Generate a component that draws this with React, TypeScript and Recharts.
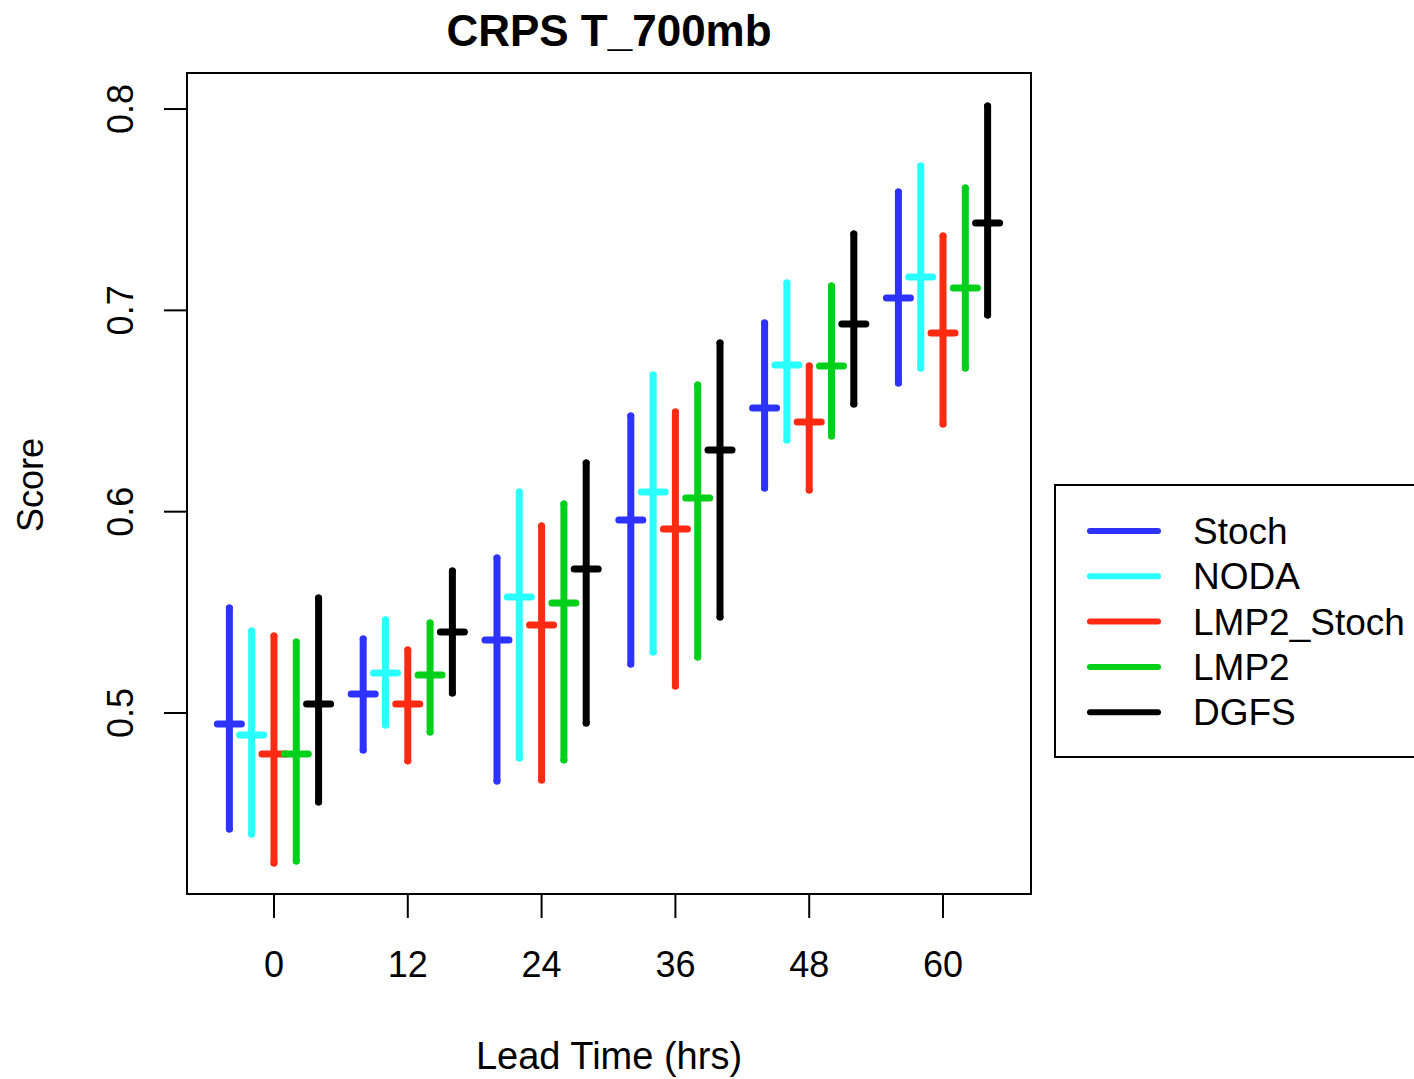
import React from 'react'
import {
  ScatterChart,
  Scatter,
  XAxis,
  YAxis,
  ErrorBar,
  ReferenceArea
} from 'recharts'

// lead times (hrs) and tick labels
const leadTimes = [0, 12, 24, 36, 48, 60]
const xTicks = [0, 12, 24, 36, 48, 60]
const yTicks = [0.5, 0.6, 0.7, 0.8]

const seriesNames = ['Stoch', 'NODA', 'LMP2_Stoch', 'LMP2', 'DGFS']
const seriesColors = ['#2d32ff', '#2affff', '#ff2a12', '#00d01a', '#000000']
const seriesOffsets = [-4, -2, 0, 2, 4]

// mean CRPS + interval per lead time
const stochMean = [0.4945, 0.5094, 0.5363, 0.5959, 0.6515, 0.7061]
const stochLow = [0.4424, 0.4816, 0.4662, 0.5243, 0.6118, 0.6639]
const stochHigh = [0.5522, 0.5368, 0.577, 0.6475, 0.6937, 0.7588]

const nodaMean = [0.4891, 0.5199, 0.5576, 0.6098, 0.6728, 0.7166]
const nodaLow = [0.4399, 0.494, 0.4776, 0.5303, 0.6356, 0.6714]
const nodaHigh = [0.5407, 0.5462, 0.6098, 0.6679, 0.7136, 0.7717]

const lmp2StochMean = [0.4796, 0.5045, 0.5437, 0.5914, 0.6445, 0.6888]
const lmp2StochLow = [0.4255, 0.4762, 0.4667, 0.5134, 0.6108, 0.6436]
const lmp2StochHigh = [0.5382, 0.5313, 0.5929, 0.6495, 0.6724, 0.7369]

const lmp2Mean = [0.4796, 0.5189, 0.5546, 0.6068, 0.6724, 0.7111]
const lmp2Low = [0.4265, 0.4906, 0.4767, 0.5278, 0.6376, 0.6714]
const lmp2High = [0.5353, 0.5447, 0.6038, 0.6629, 0.7121, 0.7608]

const dgfsMean = [0.5045, 0.5402, 0.5715, 0.6306, 0.6932, 0.7434]
const dgfsLow = [0.4558, 0.5099, 0.495, 0.5477, 0.6535, 0.6977]
const dgfsHigh = [0.5571, 0.5705, 0.6242, 0.6838, 0.7379, 0.8015]

const means = [stochMean, nodaMean, lmp2StochMean, lmp2Mean, dgfsMean]
const lows = [stochLow, nodaLow, lmp2StochLow, lmp2Low, dgfsLow]
const highs = [stochHigh, nodaHigh, lmp2StochHigh, lmp2High, dgfsHigh]

const xMin = -7.8
const xMax = 67.89
const yMin = 0.4101
const yMax = 0.8179

const font = '"Liberation Sans", Arial, Helvetica, sans-serif'

const series = seriesNames.map((name, s) => ({
  name,
  color: seriesColors[s],
  data: leadTimes.map((t, i) => ({
    x: t + seriesOffsets[s],
    y: means[s][i],
    err: [means[s][i] - lows[s][i], highs[s][i] - means[s][i]]
  }))
}))

const YTick = (props: any) => {
  const { x, y, payload } = props
  return (
    <text
      x={x}
      y={y}
      transform={`rotate(-90, ${x}, ${y})`}
      textAnchor="middle"
      fontSize={36}
      fill="#000"
    >
      {Number(payload.value).toFixed(1)}
    </text>
  )
}

const meanTick = (color: string) => (props: any) => {
  const { cx, cy } = props
  return (
    <line
      x1={cx - 12}
      x2={cx + 12}
      y1={cy}
      y2={cy}
      stroke={color}
      strokeWidth={7}
      strokeLinecap="round"
    />
  )
}

export default function App() {
  return (
    <div style={{ position: 'absolute', left: 0, top: 0, width: 1414, height: 1079, fontFamily: font, background: '#fff' }}>

      <ScatterChart
        width={1414}
        height={1079}
        margin={{ top: 73, right: 383, bottom: 0, left: 0 }}
      >
        <XAxis
          type="number"
          dataKey="x"
          domain={[xMin, xMax]}
          ticks={xTicks}
          allowDataOverflow
          height={185}
          tickSize={24}
          tickMargin={33}
          axisLine={{ stroke: '#000', strokeWidth: 2 }}
          tickLine={{ stroke: '#000', strokeWidth: 2 }}
          tick={{ fontSize: 36, fill: '#000' }}
        />
        <YAxis
          type="number"
          dataKey="y"
          domain={[yMin, yMax]}
          ticks={yTicks}
          allowDataOverflow
          width={187}
          tickSize={23}
          tickMargin={31}
          axisLine={{ stroke: '#000', strokeWidth: 2 }}
          tickLine={{ stroke: '#000', strokeWidth: 2 }}
          tick={<YTick />}
        />

        <ReferenceArea
          x1={xMin}
          x2={xMax}
          y1={yMin}
          y2={yMax}
          fill="none"
          fillOpacity={0}
          stroke="#000"
          strokeWidth={2}
          ifOverflow="visible"
        />

        {series.map((s) => (
          <Scatter
            key={s.name}
            name={s.name}
            data={s.data}
            fill={s.color}
            shape={meanTick(s.color)}
            isAnimationActive={false}
          >
            <ErrorBar
              dataKey="err"
              direction="y"
              width={0}
              stroke={s.color}
              strokeWidth={7}
              strokeLinecap="round"
              style={{ strokeWidth: 7, strokeLinecap: 'round' }}
              isAnimationActive={false}
            />
          </Scatter>
        ))}
      </ScatterChart>

      <svg
        width={1414}
        height={1079}
        style={{ position: 'absolute', left: 0, top: 0, pointerEvents: 'none', fontFamily: font }}
      >
        <text x={609} y={46} textAnchor="middle" fontSize={44} fontWeight="bold" fill="#000">
          CRPS T_700mb
        </text>
        <text x={609} y={1069} textAnchor="middle" fontSize={38} fill="#000">
          Lead Time (hrs)
        </text>
        <text x={43} y={485} transform="rotate(-90, 43, 485)" textAnchor="middle" fontSize={36} fill="#000">
          Score
        </text>

        <rect x={1055} y={485} width={420} height={272} fill="none" stroke="#000" strokeWidth={2} />
        {series.map((s, i) => (
          <g key={s.name}>
            <line
              x1={1090}
              x2={1158}
              y1={531 + i * 45.3}
              y2={531 + i * 45.3}
              stroke={s.color}
              strokeWidth={6}
              strokeLinecap="round"
            />
            <text x={1193} y={531 + i * 45.3 + 13} fontSize={37} fill="#000">
              {s.name}
            </text>
          </g>
        ))}
      </svg>

    </div>
  )
}
